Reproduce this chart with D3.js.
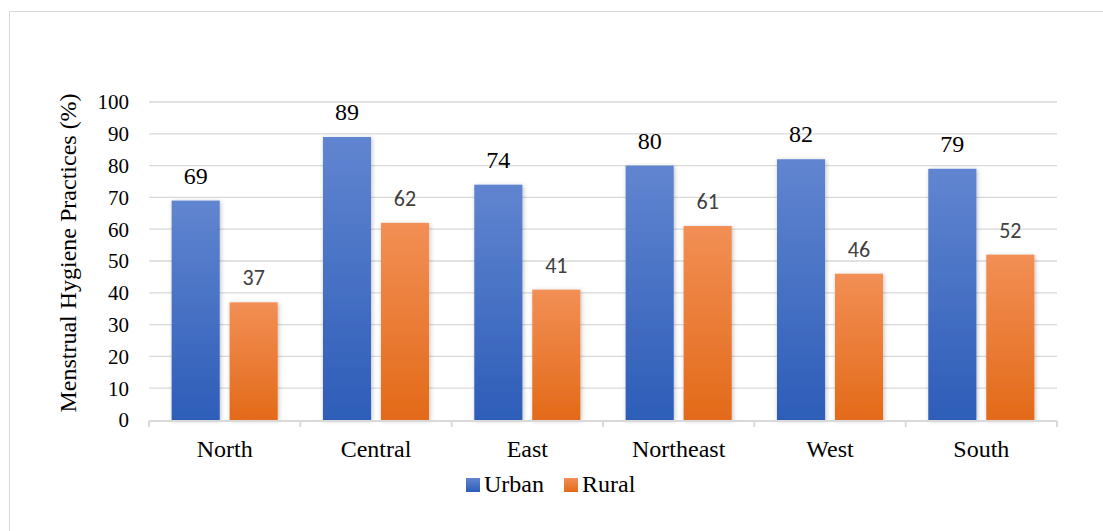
<!DOCTYPE html>
<html>
<head>
<meta charset="utf-8">
<script src="https://cdn.jsdelivr.net/npm/d3@7"></script>
<style>
  body { margin: 0; background: #fff; }
  svg { display: block; }
</style>
</head>
<body>
<div id="chart"></div>
<script>
const regions = ["North", "Central", "East", "Northeast", "West", "South"];
const urban = [69, 89, 74, 80, 82, 79];
const rural = [37, 62, 41, 61, 46, 52];
const seriesNames = ["Urban", "Rural"];
const yTicks = [0, 10, 20, 30, 40, 50, 60, 70, 80, 90, 100];

const width = 1103, height = 531;
const plotLeft = 149, plotRight = 1057, plotTop = 102, plotBottom = 420;
const serif = "'Liberation Serif', 'Times New Roman', serif";
const sans = "Carlito, 'Liberation Sans', Arial, sans-serif";

const svg = d3.select("#chart").append("svg")
    .attr("width", width).attr("height", height);

const defs = svg.append("defs");
function grad(id, c1, c2) {
  const g = defs.append("linearGradient").attr("id", id)
      .attr("x1", 0).attr("y1", 0).attr("x2", 0).attr("y2", 1);
  g.append("stop").attr("offset", "0%").attr("stop-color", c1);
  g.append("stop").attr("offset", "100%").attr("stop-color", c2);
}
grad("gUrban", "#6185d0", "#2d5db8");
grad("gRural", "#f28f55", "#e36a19");
const sh = defs.append("filter").attr("id", "shadow")
    .attr("x", "-20%").attr("y", "-10%").attr("width", "140%").attr("height", "120%");
sh.append("feDropShadow").attr("dx", 1).attr("dy", 1).attr("stdDeviation", 2)
    .attr("flood-color", "#000").attr("flood-opacity", 0.25);

// outer frame (only top and left visible)
svg.append("path").attr("d", `M9.5,${height} V11.5 H${width}`)
    .attr("fill", "none").attr("stroke", "#d9d9d9").attr("stroke-width", 1);

const x = d3.scaleBand().domain(regions).range([plotLeft, plotRight]).padding(0);
const xs = d3.scaleBand().domain(seriesNames).range([0, x.bandwidth()])
    .paddingInner(0.17).paddingOuter(0.39);
const y = d3.scaleLinear().domain([0, 100]).range([plotBottom, plotTop]);

// gridlines
svg.append("g").selectAll("line").data(yTicks.filter(d => d > 0)).join("line")
    .attr("x1", plotLeft).attr("x2", plotRight)
    .attr("y1", d => y(d)).attr("y2", d => y(d))
    .attr("stroke", "#d9d9d9").attr("stroke-width", 1.3);

// y tick labels
svg.append("g").selectAll("text").data(yTicks).join("text")
    .attr("x", 129).attr("y", d => y(d)).attr("dy", "0.35em")
    .attr("text-anchor", "end")
    .attr("font-family", serif).attr("font-size", 21).attr("fill", "#000")
    .text(d => d);

// y axis title
svg.append("text")
    .attr("transform", `translate(76,253) rotate(-90)`)
    .attr("text-anchor", "middle")
    .attr("font-family", serif).attr("font-size", 24).attr("fill", "#000")
    .text("Menstrual Hygiene Practices (%)");

// bars
const data = regions.map((r, i) => ({ region: r, values: [
  { key: "Urban", v: urban[i] }, { key: "Rural", v: rural[i] }] }));

const groups = svg.append("g").selectAll("g").data(data).join("g")
    .attr("transform", d => `translate(${x(d.region)},0)`);

groups.selectAll("rect").data(d => d.values).join("rect")
    .attr("x", d => xs(d.key)).attr("width", xs.bandwidth())
    .attr("y", d => y(d.v)).attr("height", d => y(0) - y(d.v))
    .attr("fill", d => d.key === "Urban" ? "url(#gUrban)" : "url(#gRural)")
    .attr("filter", "url(#shadow)");

groups.selectAll("text").data(d => d.values).join("text")
    .attr("x", d => xs(d.key) + xs.bandwidth() / 2)
    .attr("y", d => y(d.v) - 17)
    .attr("text-anchor", "middle")
    .attr("font-family", d => d.key === "Urban" ? serif : sans)
    .attr("font-size", d => d.key === "Urban" ? 24 : 22)
    .attr("fill", d => d.key === "Urban" ? "#000" : "#404040")
    .text(d => d.v);

// x axis
const xAxis = svg.append("g");
xAxis.append("line").attr("x1", plotLeft).attr("x2", plotRight)
    .attr("y1", plotBottom + 1).attr("y2", plotBottom + 1)
    .attr("stroke", "#d9d9d9").attr("stroke-width", 2);
xAxis.selectAll("line.tick").data(regions.concat([null])).join("line")
    .attr("class", "tick")
    .attr("x1", d => d ? x(d) : plotRight).attr("x2", d => d ? x(d) : plotRight)
    .attr("y1", plotBottom + 1).attr("y2", plotBottom + 7)
    .attr("stroke", "#d9d9d9").attr("stroke-width", 2);
xAxis.selectAll("text").data(regions).join("text")
    .attr("x", d => x(d) + x.bandwidth() / 2).attr("y", 457)
    .attr("text-anchor", "middle")
    .attr("font-family", serif).attr("font-size", 24).attr("fill", "#000")
    .text(d => d);

// legend
const legend = svg.append("g");
const legendX = [466, 564];
seriesNames.forEach((s, i) => {
  legend.append("rect").attr("x", legendX[i]).attr("y", 478)
      .attr("width", 14).attr("height", 14)
      .attr("fill", i === 0 ? "url(#gUrban)" : "url(#gRural)");
  legend.append("text").attr("x", legendX[i] + 18).attr("y", 492)
      .attr("font-family", serif).attr("font-size", 24).attr("fill", "#000")
      .text(s);
});
</script>
</body>
</html>
